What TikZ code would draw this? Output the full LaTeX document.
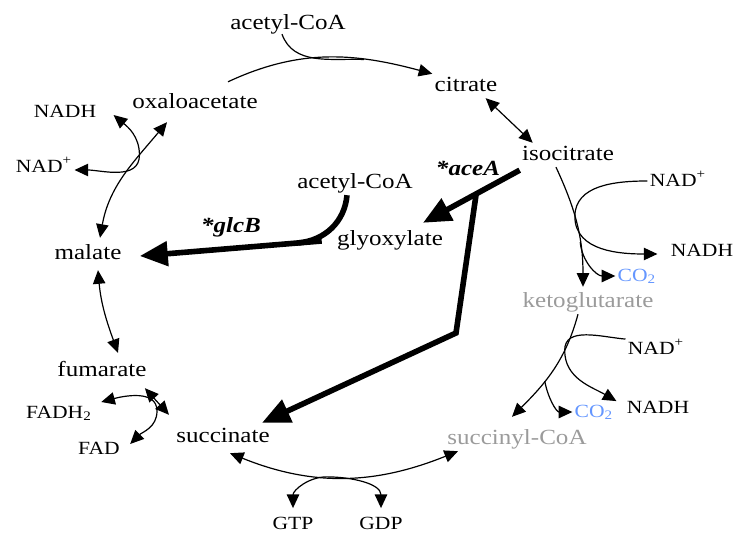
\documentclass[tikz,border=0pt]{standalone}
\usepackage{fontspec}
\setmainfont{Liberation Serif}[FakeStretch=1.16]
\usetikzlibrary{arrows.meta}
\definecolor{ketogray}{RGB}{155,155,155}
\definecolor{co2blue}{RGB}{100,150,255}
\newcommand{\nadplus}{NAD\textsuperscript{+}}
\newcommand{\cotwo}{CO\textsubscript{2}}

\begin{document}
\begin{tikzpicture}[
                x=0.5pt, y=-0.5pt,
                >={Triangle[length=6.8pt, width=6.2pt]},
                metab/.style = {inner sep=1pt, text height=7.5pt, text depth=2.3pt, font=\fontsize{10.8}{13}\selectfont},
                cofac/.style = {inner sep=1pt, text height=6.5pt, text depth=1pt, font=\fontsize{9.3}{11}\selectfont},
                enzyme/.style = {metab, font=\fontsize{10.8}{13}\selectfont\bfseries\itshape},
                plain/.style = {line width=0.6pt},
                arrow/.style = {->, line width=0.6pt},
                twoway/.style = {<->, line width=0.6pt},
                bigarrow/.style = {-{Triangle[length=14pt, width=12pt]}, line width=2.8pt},
                bigline/.style = {line width=2.8pt}
              ]
              \useasboundingbox (0,0) rectangle (735,534);
              % Metabolites
              \node[metab] (acoa1) at (288,24) {acetyl-CoA};
              \node[metab] (citrate) at (466,86) {citrate};
              \node[metab] (isocit) at (568,155) {isocitrate};
              \node[metab, text=ketogray] (keto) at (588,302) {ketoglutarate};
              \node[metab, text=ketogray] (succoa) at (517,439) {succinyl-CoA};
              \node[metab] (succ) at (223,437) {succinate};
              \node[metab] (fum) at (102,371) {fumarate};
              \node[metab] (malate) at (88,254) {malate};
              \node[metab] (oxalo) at (195,103) {oxaloacetate};
              \node[metab] (acoa2) at (355,183) {acetyl-CoA};
              \node[metab] (glyox) at (390,240) {glyoxylate};
              % Enzymes
              \node[enzyme] (acea) at (468,170) {*aceA};
              \node[enzyme] (glcb) at (231,227) {*glcB};
              % Cofactors
              \node[cofac] (nadL) at (44,167) {\nadplus};
              \node[cofac] (nadhL) at (65,112) {NADH};
              \node[cofac] (nadR1) at (678,181) {\nadplus};
              \node[cofac] (nadhR1) at (702,251) {NADH};
              \node[cofac, text=co2blue] (co2a) at (637,276) {\cotwo};
              \node[cofac] (nadR2) at (656,349) {\nadplus};
              \node[cofac] (nadhR2) at (658,408) {NADH};
              \node[cofac, text=co2blue] (co2b) at (594,412) {\cotwo};
              \node[cofac] (fadh) at (59,413) {FADH\textsubscript{2}};
              \node[cofac] (fad) at (99,449) {FAD};
              \node[cofac] (gtp) at (293,524) {GTP};
              \node[cofac] (gdp) at (381,524) {GDP};
              % Cycle
              \draw[arrow] ([shift={(16.5pt,4.5pt)}]oxalo.north) to[out=25, in=165] coordinate[pos=0.68] (j1) (citrate.north west);
              \draw[plain] ([shift={(-3pt,1pt)}]acoa1.south) to[out=-70, in=178] (j1);
              \draw[twoway] ([xshift=-7pt]citrate.south east) -- ([xshift=6.5pt]isocit.north west);
              \draw[arrow] ([xshift=-6pt]isocit.south) to[out=-65, in=90] coordinate[pos=0.42] (j2) coordinate[pos=0.65] (j3) ([shift={(-2.5pt,1.5pt)}]keto.north);
              \draw[arrow] (nadR1.west) to[out=180, in=90] (j2) to[out=-90, in=180] ([shift={(-5.5pt,-1.5pt)}]nadhR1.west);
              \draw[arrow] (j3) to[out=-85, in=180] (co2a.west);
              \draw[arrow] ([xshift=-5pt]keto.south) to[out=-105, in=45] coordinate[pos=0.3] (j4) coordinate[pos=0.62] (j5) ([shift={(-2.5pt,5pt)}]succoa.north);
              \draw[arrow] (nadR2.north west) to[out=175, in=90] (j4) to[out=-90, in=150] ([shift={(-4pt,-1.5pt)}]nadhR2.north west);
              \draw[arrow] (j5) to[out=-80, in=180] (co2b.west);
              \draw[twoway] ([shift={(3.5pt,-2pt)}]succ.south) to[out=-22, in=-158] coordinate[pos=0.42] (j6) ([xshift=6.5pt]succoa.south west);
              \draw[twoway] ([yshift=3pt]gtp.north) to[out=90, in=180] (j6) to[out=0, in=90] ([yshift=3pt]gdp.north);
              \draw[twoway] ([shift={(-2pt,-2.5pt)}]fum.south east) -- ([shift={(-2.5pt,5pt)}]succ.north west);
              \coordinate (j8) at (157,411);
              \draw[twoway] ([shift={(3.5pt,5.5pt)}]fadh.east) to[out=15, in=90] (j8) to[out=-90, in=45] ([shift={(4pt,2.5pt)}]fad.east);
              \draw[twoway] ([shift={(5pt,-2pt)}]malate.south) to[out=-85, in=110] ([shift={(8pt,3pt)}]fum.north);
              \draw[twoway] ([shift={(-14pt,-3.5pt)}]oxalo.south) to[out=-130, in=80] coordinate[pos=0.3] (j7) ([shift={(6pt,2pt)}]malate.north);
              \draw[twoway] ([shift={(7.5pt,-1.5pt)}]nadhL.east) to[out=-40, in=90] (j7) to[out=-90, in=0] ([yshift=-1.5pt]nadL.east);
              % Glyoxylate shunt
              \draw[bigarrow] ([yshift=-1.5pt]isocit.south west) -- coordinate[pos=0.45] (j9) ([shift={(16.5pt,2.5pt)}]glyox.north);
              \coordinate (j10) at (456,333);
              \draw[bigarrow] (j9) -- (j10) -- ([shift={(-5pt,1pt)}]succ.north east);
              \draw[bigarrow] ([shift={(-6.5pt,-0.5pt)}]glyox.west) -- coordinate[pos=0.13] (j11) ([shift={(8pt,-1pt)}]malate.east);
              \draw[bigline] ([xshift=-4pt]acoa2.south) to[out=-95, in=5] (j11);
            \end{tikzpicture}
\end{document}
